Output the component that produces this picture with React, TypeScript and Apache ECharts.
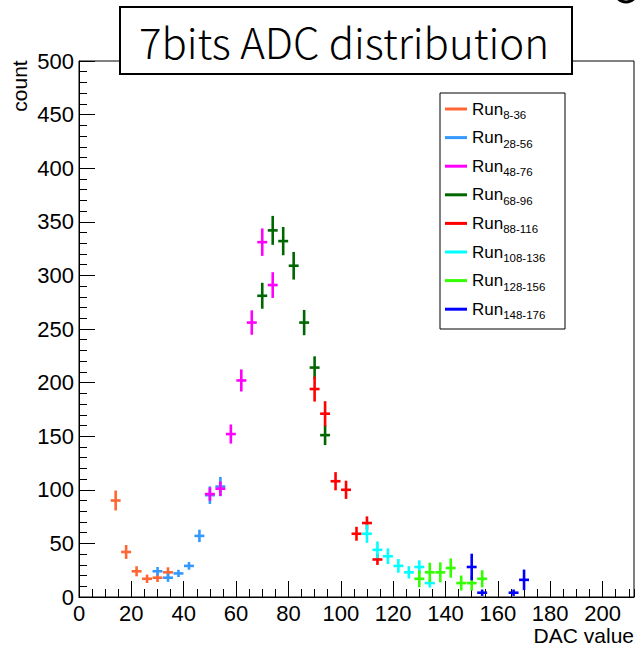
import React, { useEffect, useRef } from "react";
import * as echarts from "echarts";

// ---- data ----
const runLabels = ["8-36", "28-56", "48-76", "68-96", "88-116", "108-136", "128-156", "148-176"];
const runColors = ["#ff6633", "#3399ff", "#ff00ff", "#006600", "#ff0000", "#00ffff", "#33ff00", "#0000ff"];

const run1X = [14, 18, 22, 26, 30, 34];
const run1Y = [90, 42, 24, 17, 18, 23];
const run1E = [9.3, 6.5, 4.7, 3.9, 4.0, 4.7];

const run2X = [30, 34, 38, 42, 46, 50, 54];
const run2Y = [24, 18, 22, 29, 57, 95, 103];
const run2E = [4.0, 3.9, 3.4, 3.6, 5.8, 8.2, 9.0];

const run3X = [50, 54, 58, 62, 66, 70, 74];
const run3Y = [96, 101, 152, 202, 256, 331, 291];
const run3E = [6.2, 6.8, 8.9, 10.3, 11.4, 12.8, 12.0];

const run4X = [70, 74, 78, 82, 86, 90, 94];
const run4Y = [281, 342, 332, 309, 256, 214, 151];
const run4E = [12.1, 13.5, 13.2, 12.9, 11.8, 10.5, 9.3];

const run5X = [90, 94, 98, 102, 106, 110, 114];
const run5Y = [194, 171, 108, 100, 59, 69, 35];
const run5E = [11.7, 11.7, 8.5, 8.5, 6.5, 6.2, 5.1];

const run6X = [110, 114, 118, 122, 126, 130, 134];
const run6Y = [59, 44, 38, 29, 23, 28, 13];
const run6E = [8.5, 7.8, 7.3, 6.4, 5.8, 6.2, 4.2];

const run7X = [130, 134, 138, 142, 146, 150, 154];
const run7Y = [17, 23, 23, 27, 13, 13, 17];
const run7E = [7.8, 9.0, 9.3, 9.0, 7.0, 7.0, 8.0];

const run8X = [150, 154, 166, 170];
const run8Y = [28, 4, 4, 16];
const run8E = [12.4, 3.0, 3.0, 9.6];

const runsX = [run1X, run2X, run3X, run4X, run5X, run6X, run7X, run8X];
const runsY = [run1Y, run2Y, run3Y, run4Y, run5Y, run6Y, run7Y, run8Y];
const runsE = [run1E, run2E, run3E, run4E, run5E, run6E, run7E, run8E];

const xTicksMajor = 20;
const xTicksMinor = 5;
const xMin = 0;
const xMax = 212;
const yMin = 0;
const yMax = 500;
const yInterval = 50;

const HALF_BIN = 1.9;
const FONT = "'Liberation Sans', Arial, sans-serif";

export default function App() {
  const ref = useRef<HTMLDivElement>(null);

  useEffect(() => {
    if (!ref.current) return;
    const chart = echarts.init(ref.current, undefined, { renderer: "svg" });

    const seriesNames = runLabels.map((l) => "Run" + l);

    const series = runsX.map((xs, i) => ({
      type: "custom" as const,
      name: seriesNames[i],
      xAxisIndex: 0,
      yAxisIndex: 0,
      clip: true,
      itemStyle: { color: runColors[i] },
      encode: { x: 0, y: 1 },
      data: xs.map((x, j) => [x, runsY[i][j], runsE[i][j]]),
      renderItem: (params: any, api: any) => {
        const x = api.value(0);
        const y = api.value(1);
        const e = api.value(2);
        const l = api.coord([x - HALF_BIN, y]);
        const r = api.coord([x + HALF_BIN, y]);
        const t = api.coord([x, y + e]);
        const b = api.coord([x, y - e]);
        const style = { stroke: runColors[i], lineWidth: 2.6 };
        return {
          type: "group",
          children: [
            { type: "line", shape: { x1: l[0], y1: l[1], x2: r[0], y2: r[1] }, style },
            { type: "line", shape: { x1: t[0], y1: t[1], x2: b[0], y2: b[1] }, style },
          ],
        };
      },
    }));

    chart.setOption({
      animation: false,
      backgroundColor: "#ffffff",
      grid: {
        left: 79,
        top: 61,
        right: 3,
        bottom: 50,
        show: true,
        borderColor: "#000",
        borderWidth: 1,
        backgroundColor: "transparent",
      },
      xAxis: [
        {
          type: "value",
          min: xMin,
          max: xMax,
          interval: xTicksMajor,
          position: "bottom",
          axisLine: { show: true, onZero: false, lineStyle: { color: "#000", width: 1 } },
          axisTick: { show: true, inside: true, length: 16, lineStyle: { color: "#000", width: 1 } },
          axisLabel: {
            show: true,
            showMaxLabel: false,
            margin: 5,
            color: "#000",
            fontSize: 22,
            fontFamily: FONT,
          },
          splitLine: { show: false },
        },
        {
          type: "value",
          min: xMin,
          max: xMax,
          interval: xTicksMinor,
          position: "bottom",
          axisLine: { show: false },
          axisTick: { show: true, inside: true, length: 8, lineStyle: { color: "#000", width: 1 } },
          axisLabel: { show: false },
          splitLine: { show: false },
        },
      ],
      yAxis: {
        type: "value",
        min: yMin,
        max: yMax,
        interval: yInterval,
        axisLine: { show: true, onZero: false, lineStyle: { color: "#000", width: 1 } },
        axisTick: { show: true, inside: true, length: 16, lineStyle: { color: "#000", width: 1 } },
        minorTick: { show: true, splitNumber: 5, length: 8, lineStyle: { color: "#000", width: 1 } },
        axisLabel: {
          show: true,
          margin: 5,
          color: "#000",
          fontSize: 22,
          fontFamily: FONT,
        },
        splitLine: { show: false },
        minorSplitLine: { show: false },
      },
      legend: {
        show: true,
        orient: "vertical",
        left: 445,
        top: 100.5,
        itemWidth: 22,
        itemHeight: 3,
        itemGap: 8.1,
        padding: 0,
        icon: "rect",
        data: seriesNames,
        formatter: (name: string) => {
          const sub = name.slice(3);
          return "{r|Run}{s|" + sub + "}";
        },
        textStyle: {
          color: "#000",
          fontFamily: FONT,
          rich: {
            r: { fontSize: 17, lineHeight: 24, fontFamily: FONT, color: "#000", verticalAlign: "middle" },
            s: { fontSize: 11.5, lineHeight: 24, fontFamily: FONT, color: "#000", verticalAlign: "bottom", padding: [0, 0, 0, 0] },
          },
        },
      },
      graphic: [
        {
          type: "rect",
          shape: { x: 440, y: 93, width: 125, height: 236 },
          style: { fill: "none", stroke: "#000", lineWidth: 1 },
          z: 10,
          silent: true,
        },
        {
          type: "rect",
          shape: { x: 120, y: 7, width: 452, height: 67 },
          style: { fill: "#fff", stroke: "#000", lineWidth: 2 },
          z: 20,
          silent: true,
        },
        {
          type: "text",
          x: 344,
          y: 40,
          z: 21,
          style: {
            text: "7bits ADC distribution",
            fontSize: 42,
            fontWeight: 300,
            fontFamily: "'Noto Sans CJK JP', 'Noto Sans', sans-serif",
            fill: "#000",
            stroke: "#fff",
            lineWidth: 0.9,
            textAlign: "center",
            textVerticalAlign: "middle",
          },
        },
        {
          type: "text",
          x: 19,
          y: 86,
          rotation: Math.PI / 2,
          style: {
            text: "count",
            fontSize: 21,
            fontFamily: FONT,
            fill: "#000",
            textAlign: "center",
            textVerticalAlign: "middle",
          },
        },
        {
          type: "text",
          x: 634,
          y: 635,
          style: {
            text: "DAC value",
            fontSize: 21,
            fontFamily: FONT,
            fill: "#000",
            textAlign: "right",
            textVerticalAlign: "middle",
          },
        },
        {
          type: "arc",
          shape: { cx: 626, cy: -9, r: 11, startAngle: Math.PI * 0.2, endAngle: Math.PI * 0.8 },
          style: { stroke: "#000", lineWidth: 3, fill: "none" },
          silent: true,
        },
      ],
      series,
    });

    return () => chart.dispose();
  }, []);

  return <div ref={ref} style={{ position: "absolute", left: 0, top: 0, width: 637, height: 647 }} />;
}
